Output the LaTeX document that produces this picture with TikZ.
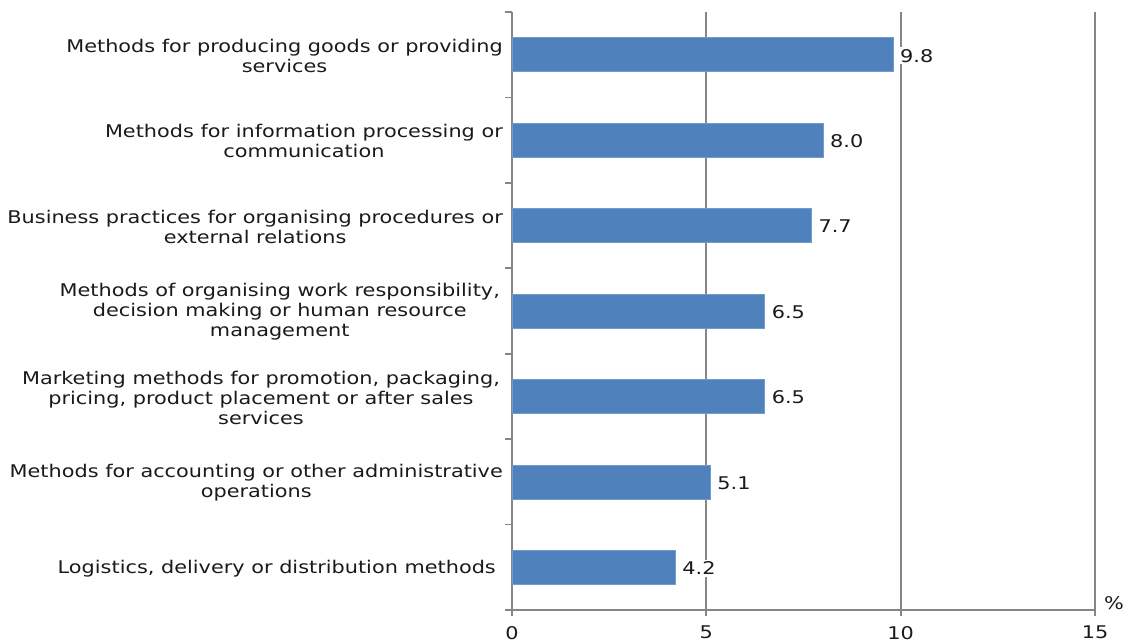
\documentclass[tikz,border=0pt]{standalone}
\usepackage{fontspec}
\setmainfont[FakeStretch=1.19]{DejaVu Sans}
\definecolor{barblue}{HTML}{4F81BD}
\definecolor{gridgray}{HTML}{868686}
\definecolor{txt}{HTML}{1A1A1A}
\begin{document}
\begin{tikzpicture}[x=1pt,y=-1pt,
  every node/.style={font=\fontsize{17.5}{20}\selectfont, text=txt, inner sep=0pt},
  gridline/.style={draw=gridgray, line width=1.8pt},
  bar/.style={fill=barblue, draw=barblue!80!white, line width=0.6pt},
  catlabel/.style={anchor=east, align=center},
  vallabel/.style={anchor=west, fill=white, inner xsep=1pt, inner ysep=2pt},
  ticklabel/.style={anchor=north}]
\useasboundingbox (0,0) rectangle (1130,642);
\def\ux{38.87}
% gridlines
\foreach \v in {5,10,15} {
  \draw[gridline] ({512+\v*\ux},12) -- ({512+\v*\ux},616);
}
% axes
\draw[gridline] (512,12) -- (512,616);
\draw[gridline] (512,610) -- (1095,610);
\foreach \k in {0,...,7} {
  \draw[gridline] (505,{12+\k*85.43}) -- (512,{12+\k*85.43});
}
% bars
\foreach \val/\name/\i in {9.8/b1/0, 8.0/b2/1, 7.7/b3/2, 6.5/b4/3, 6.5/b5/4, 5.1/b6/5, 4.2/b7/6} {
  \path[bar] (512,{54.7+\i*85.43-17}) rectangle ({512+\val*\ux},{54.7+\i*85.43+17});
  \node[vallabel] (\name) at ({512+\val*\ux+6},{54.7+\i*85.43+1}) {\val};
}
% category labels
\node[catlabel] (c1) at (503,56) {Methods for producing goods or providing\\services};
\node[catlabel] (c2) at (503,141) {Methods for information processing or\\communication};
\node[catlabel] (c3) at (503,227) {Business practices for organising procedures or\\external relations};
\node[catlabel] (c4) at (500,312) {Methods of organising work responsibility,\\decision making or human resource\\management};
\node[catlabel] (c5) at (500,398) {Marketing methods for promotion, packaging,\\pricing, product placement or after sales\\services};
\node[catlabel] (c6) at (503,483) {Methods for accounting or other administrative\\operations};
\node[catlabel] (c7) at (496,569) {Logistics, delivery or distribution methods};
% tick labels
\node[ticklabel] (t0) at (512,626) {0};
\node[ticklabel] (t5) at ({512+5*\ux},626) {5};
\node[ticklabel] (t10) at ({512+10*\ux},626) {10};
\node[ticklabel] (t15) at ({512+15*\ux},626) {15};
\node (pct) at (1114,603) {\%};
\end{tikzpicture}
\end{document}
